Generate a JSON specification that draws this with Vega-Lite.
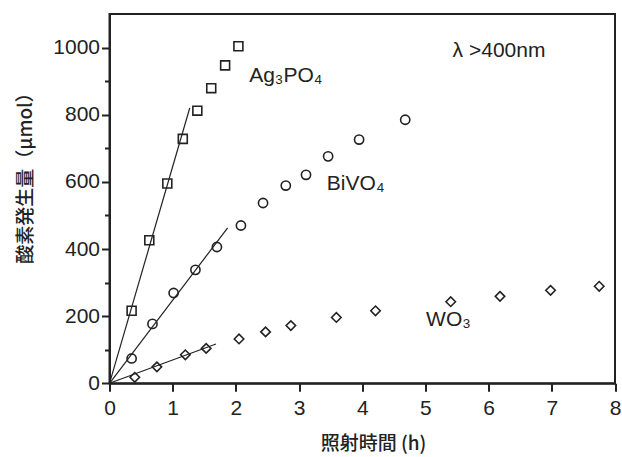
{
  "$schema": "https://vega.github.io/schema/vega-lite/v6.json",
  "width": 505.5,
  "height": 369.3,
  "autosize": {"type": "none"},
  "padding": {"left": 109.5, "top": 14, "right": 7, "bottom": 73.7},
  "background": "white",
  "datasets": {
    "points": [
      {"series": "Ag3PO4", "x": 0.35, "y": 216},
      {"series": "Ag3PO4", "x": 0.63, "y": 426},
      {"series": "Ag3PO4", "x": 0.915, "y": 595},
      {"series": "Ag3PO4", "x": 1.16, "y": 728},
      {"series": "Ag3PO4", "x": 1.39, "y": 812},
      {"series": "Ag3PO4", "x": 1.61, "y": 879},
      {"series": "Ag3PO4", "x": 1.83, "y": 947},
      {"series": "Ag3PO4", "x": 2.04, "y": 1004},
      {"series": "BiVO4", "x": 0.35, "y": 74},
      {"series": "BiVO4", "x": 0.68, "y": 177},
      {"series": "BiVO4", "x": 1.015, "y": 269},
      {"series": "BiVO4", "x": 1.36, "y": 338},
      {"series": "BiVO4", "x": 1.70, "y": 406},
      {"series": "BiVO4", "x": 2.08, "y": 470},
      {"series": "BiVO4", "x": 2.43, "y": 537},
      {"series": "BiVO4", "x": 2.79, "y": 589},
      {"series": "BiVO4", "x": 3.11, "y": 621},
      {"series": "BiVO4", "x": 3.46, "y": 676},
      {"series": "BiVO4", "x": 3.95, "y": 726},
      {"series": "BiVO4", "x": 4.68, "y": 785},
      {"series": "WO3", "x": 0.40, "y": 18},
      {"series": "WO3", "x": 0.75, "y": 49},
      {"series": "WO3", "x": 1.20, "y": 85},
      {"series": "WO3", "x": 1.53, "y": 104},
      {"series": "WO3", "x": 2.05, "y": 132},
      {"series": "WO3", "x": 2.47, "y": 153},
      {"series": "WO3", "x": 2.87, "y": 172},
      {"series": "WO3", "x": 3.59, "y": 196},
      {"series": "WO3", "x": 4.21, "y": 216},
      {"series": "WO3", "x": 5.40, "y": 243},
      {"series": "WO3", "x": 6.18, "y": 259},
      {"series": "WO3", "x": 6.98, "y": 277},
      {"series": "WO3", "x": 7.75, "y": 289}
    ],
    "fits": [
      {"series": "Ag3PO4", "x": 0, "y": 0},
      {"series": "Ag3PO4", "x": 1.27, "y": 820},
      {"series": "BiVO4", "x": 0, "y": 0},
      {"series": "BiVO4", "x": 1.87, "y": 463},
      {"series": "WO3", "x": 0, "y": 0},
      {"series": "WO3", "x": 1.685, "y": 117}
    ],
    "labels": [
      {"text": "Ag₃PO₄", "x": 2.21, "y": 916},
      {"text": "BiVO₄", "x": 3.44, "y": 595},
      {"text": "WO₃", "x": 5.01, "y": 188},
      {"text": "λ >400nm", "x": 5.43, "y": 990}
    ]
  },
  "encoding": {
    "x": {
      "field": "x", "type": "quantitative",
      "scale": {"domain": [0, 8], "nice": false, "zero": false},
      "axis": {
        "title": "照射時間 (h)",
        "values": [0, 0.5, 1, 1.5, 2, 2.5, 3, 3.5, 4, 4.5, 5, 5.5, 6, 6.5, 7, 7.5, 8],
        "format": "d",
        "labelExpr": "datum.value % 1 === 0 ? datum.label : ''",
        "tickSize": {"condition": {"test": "datum.value % 1 === 0", "value": 8}, "value": 5},
        "labelPadding": 6,
        "labelFlush": false,
        "titleX": 263.5,
        "titleY": 60,
        "titleBaseline": "middle",
        "titleAnchor": "middle",
        "titleAlign": "center"
      }
    },
    "y": {
      "field": "y", "type": "quantitative",
      "scale": {"domain": [0, 1100], "nice": false, "zero": false},
      "axis": {
        "title": "酸素発生量（μmol）",
        "values": [0, 100, 200, 300, 400, 500, 600, 700, 800, 900, 1000],
        "labelExpr": "datum.value % 200 === 0 ? datum.label : ''",
        "tickSize": {"condition": {"test": "datum.value % 200 === 0", "value": 8}, "value": 5},
        "labelPadding": 2,
        "labelFlush": false,
        "format": "d",
        "titleX": -84,
        "titleY": 159,
        "titleBaseline": "middle",
        "titleAngle": -90,
        "titleAlign": "center"
      }
    }
  },
  "layer": [
    {
      "data": {"name": "fits"},
      "mark": {"type": "line", "color": "#222", "strokeWidth": 1.2},
      "encoding": {"detail": {"field": "series"}}
    },
    {
      "data": {"name": "points"},
      "mark": {"type": "point", "filled": false, "color": "#222", "strokeWidth": 1.6, "opacity": 1},
      "encoding": {
        "shape": {
          "field": "series", "type": "nominal",
          "scale": {"domain": ["Ag3PO4", "BiVO4", "WO3"], "range": ["square", "circle", "diamond"]},
          "legend": null
        },
        "size": {
          "field": "series", "type": "nominal",
          "scale": {"domain": ["Ag3PO4", "BiVO4", "WO3"], "range": [80, 90, 150]},
          "legend": null
        }
      }
    },
    {
      "data": {"name": "labels"},
      "mark": {"type": "text", "align": "left", "baseline": "middle", "font": "Liberation Sans", "fontSize": 21, "color": "#222"},
      "encoding": {"text": {"field": "text"}}
    }
  ],
  "config": {
    "view": {"stroke": "#222", "strokeWidth": 2},
    "axis": {
      "domainColor": "#222",
      "domainWidth": 2,
      "tickColor": "#222",
      "tickWidth": 2,
      "grid": false,
      "labelFont": "Liberation Sans",
      "labelFontSize": 21,
      "labelColor": "#222",
      "titleFont": "Noto Sans CJK JP",
      "titleFontSize": 19,
      "titleFontWeight": 500,
      "titleColor": "#222"
    }
  }
}
